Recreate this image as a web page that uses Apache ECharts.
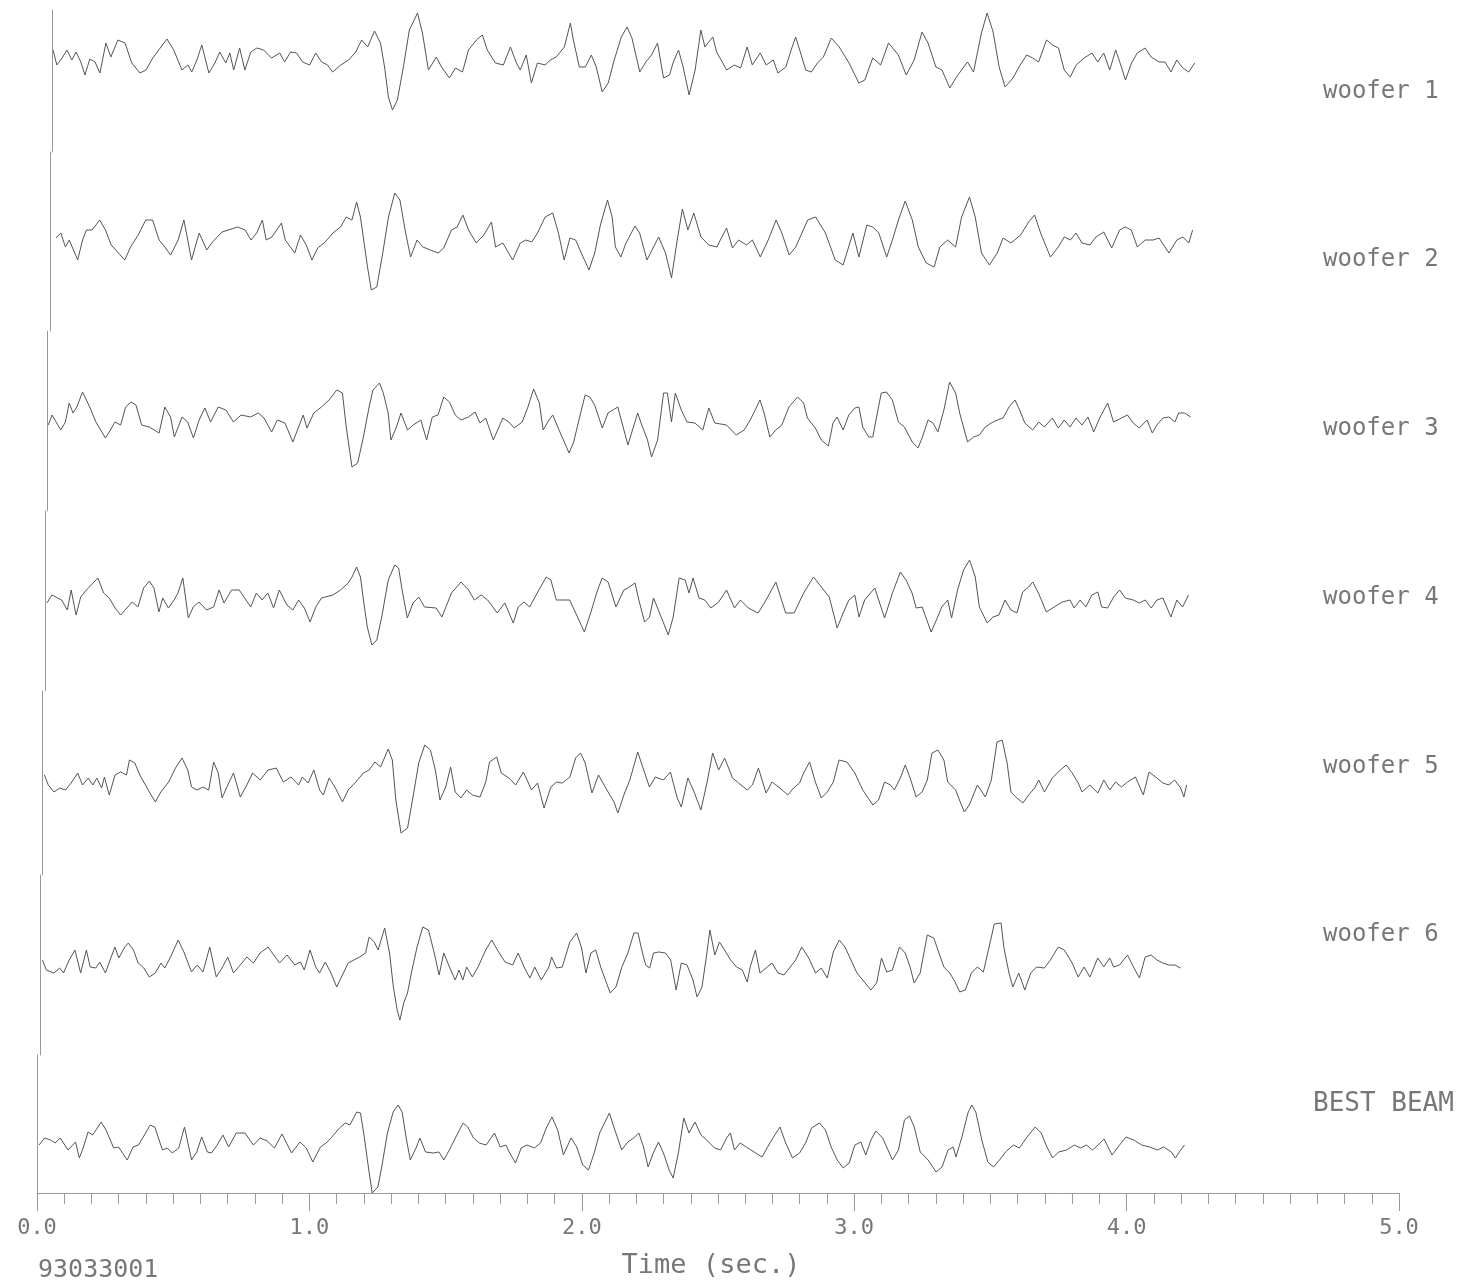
<!DOCTYPE html>
<html>
<head>
<meta charset="utf-8">
<script src="https://cdn.jsdelivr.net/npm/echarts@6/dist/echarts.min.js"></script>
<style>
html,body{margin:0;padding:0;background:#fff;}
#chart{width:1467px;height:1285px;}
</style>
</head>
<body>
<div id="chart"></div>
<script>
// ---- DATA (time in s, relative amplitude) ----
const traceNames = ['woofer 1','woofer 2','woofer 3','woofer 4','woofer 5','woofer 6','BEST BEAM'];
const recordId = '93033001';
const axisTitle = 'Time (sec.)';
const timeTicks = [0,1,2,3,4,5];

const woofer1 = [[0.003,15],[0.017,0],[0.036,7],[0.054,15],[0.072,5],[0.087,13],[0.105,3],[0.120,-10],[0.138,6],[0.157,3],[0.175,-8],[0.197,22],[0.215,8],[0.241,25],[0.267,22],[0.292,2],[0.322,-8],[0.344,-5],[0.369,7],[0.399,18],[0.421,26],[0.446,15],[0.476,-5],[0.498,0],[0.512,-7],[0.531,5],[0.549,20],[0.575,-8],[0.597,2],[0.615,13],[0.637,2],[0.652,12],[0.666,-5],[0.688,17],[0.707,-5],[0.729,13],[0.751,17],[0.776,15],[0.805,7],[0.835,12],[0.853,3],[0.875,13],[0.897,12],[0.919,3],[0.945,0],[0.967,12],[0.989,3],[1.011,0],[1.029,-7],[1.059,0],[1.088,5],[1.114,13],[1.136,25],[1.158,18],[1.183,34],[1.205,22],[1.220,-2],[1.234,-32],[1.249,-45],[1.267,-35],[1.289,-2],[1.311,35],[1.341,52],[1.359,32],[1.381,-5],[1.410,8],[1.429,-2],[1.458,-13],[1.480,-3],[1.506,-7],[1.528,15],[1.557,25],[1.579,30],[1.597,15],[1.627,2],[1.656,0],[1.682,18],[1.704,2],[1.718,-5],[1.740,10],[1.759,-18],[1.781,2],[1.810,0],[1.828,5],[1.850,8],[1.880,18],[1.902,42],[1.913,25],[1.935,-2],[1.957,-2],[1.979,10],[1.997,-2],[2.019,-27],[2.041,-18],[2.063,5],[2.089,28],[2.110,38],[2.128,27],[2.157,-7],[2.179,3],[2.200,10],[2.222,22],[2.244,-13],[2.266,-10],[2.280,3],[2.299,15],[2.316,-2],[2.338,-30],[2.360,-5],[2.381,35],[2.396,18],[2.410,23],[2.425,28],[2.439,13],[2.476,-5],[2.504,0],[2.527,-3],[2.551,18],[2.570,0],[2.599,12],[2.621,0],[2.647,5],[2.664,-8],[2.693,-2],[2.715,17],[2.729,28],[2.744,15],[2.766,-5],[2.787,-7],[2.809,2],[2.831,8],[2.860,27],[2.889,18],[2.925,2],[2.961,-18],[2.983,-15],[3.012,7],[3.041,0],[3.070,22],[3.106,10],[3.135,-10],[3.164,5],[3.193,33],[3.215,22],[3.244,-2],[3.266,-5],[3.295,-23],[3.317,-13],[3.338,-5],[3.360,3],[3.382,-7],[3.411,32],[3.432,52],[3.454,33],[3.476,-2],[3.498,-22],[3.527,-13],[3.549,-2],[3.577,10],[3.599,7],[3.621,3],[3.650,25],[3.672,20],[3.694,17],[3.715,-5],[3.737,-12],[3.759,0],[3.788,7],[3.817,12],[3.838,3],[3.860,12],[3.882,-5],[3.904,15],[3.925,-2],[3.940,-15],[3.962,2],[3.983,12],[4.012,17],[4.034,8],[4.063,3],[4.085,3],[4.107,-7],[4.128,5],[4.150,-3],[4.172,-7],[4.194,2]];

const woofer2 = [[0.022,2],[0.040,7],[0.057,-7],[0.071,0],[0.102,-20],[0.120,0],[0.134,10],[0.155,10],[0.183,20],[0.204,10],[0.225,-5],[0.275,-20],[0.296,-7],[0.324,5],[0.352,20],[0.377,20],[0.401,0],[0.422,-7],[0.443,-15],[0.471,0],[0.492,20],[0.520,-20],[0.548,7],[0.576,-10],[0.597,-2],[0.632,8],[0.689,13],[0.717,10],[0.738,0],[0.759,7],[0.780,20],[0.794,0],[0.815,3],[0.850,17],[0.864,0],[0.899,-13],[0.920,5],[0.941,-5],[0.962,-20],[0.983,-8],[1.011,-2],[1.039,7],[1.067,13],[1.088,23],[1.109,20],[1.126,38],[1.140,23],[1.152,0],[1.166,-27],[1.180,-50],[1.200,-47],[1.222,-13],[1.243,23],[1.266,47],[1.285,40],[1.306,7],[1.324,-17],[1.348,0],[1.369,-7],[1.397,-10],[1.425,-13],[1.446,-8],[1.474,10],[1.495,13],[1.516,25],[1.537,10],[1.565,-3],[1.593,5],[1.621,18],[1.636,-7],[1.663,-3],[1.699,-20],[1.727,-3],[1.748,0],[1.769,-2],[1.790,7],[1.818,23],[1.846,27],[1.867,7],[1.888,-20],[1.909,2],[1.930,0],[1.951,-13],[1.979,-30],[2.000,-13],[2.021,15],[2.047,40],[2.064,23],[2.076,-7],[2.096,-17],[2.115,-3],[2.148,14],[2.165,7],[2.192,-20],[2.216,-7],[2.235,3],[2.260,-13],[2.282,-38],[2.303,0],[2.322,31],[2.342,10],[2.364,27],[2.390,3],[2.419,-5],[2.448,-7],[2.484,12],[2.506,-8],[2.528,0],[2.557,-5],[2.579,0],[2.608,-17],[2.637,0],[2.666,20],[2.687,7],[2.714,-15],[2.738,-7],[2.782,20],[2.811,23],[2.847,7],[2.883,-20],[2.912,-25],[2.948,7],[2.970,-17],[2.999,15],[3.021,13],[3.043,7],[3.072,-17],[3.093,0],[3.115,20],[3.140,39],[3.166,20],[3.188,-7],[3.217,-23],[3.246,-27],[3.267,-7],[3.296,0],[3.325,-7],[3.347,23],[3.376,43],[3.397,23],[3.420,-13],[3.449,-25],[3.478,-13],[3.499,2],[3.528,-3],[3.564,5],[3.593,18],[3.615,25],[3.637,7],[3.673,-17],[3.702,-7],[3.724,3],[3.746,0],[3.767,7],[3.789,-3],[3.818,-5],[3.840,3],[3.869,8],[3.898,-8],[3.927,10],[3.948,13],[3.970,10],[3.992,-7],[4.021,0],[4.050,0],[4.072,2],[4.108,-13],[4.137,0],[4.159,3],[4.181,-3],[4.195,10]];

const woofer3 = [[0.003,-2],[0.017,8],[0.049,-7],[0.066,1],[0.080,20],[0.094,10],[0.108,16],[0.129,31],[0.157,15],[0.178,1],[0.213,-15],[0.227,-9],[0.248,1],[0.269,-2],[0.287,16],[0.307,21],[0.325,18],[0.346,-2],[0.374,-4],[0.410,-10],[0.431,16],[0.452,6],[0.466,-14],[0.494,6],[0.515,1],[0.536,-15],[0.557,3],[0.578,15],[0.599,1],[0.627,16],[0.655,13],[0.683,1],[0.711,8],[0.746,6],[0.774,10],[0.795,5],[0.823,-9],[0.844,3],[0.872,0],[0.901,-19],[0.922,-4],[0.939,8],[0.953,-5],[0.978,10],[1.006,16],[1.034,23],[1.062,33],[1.083,30],[1.097,-4],[1.118,-44],[1.139,-40],[1.160,-14],[1.181,16],[1.195,33],[1.219,40],[1.233,30],[1.251,10],[1.261,-17],[1.280,-5],[1.298,10],[1.322,-7],[1.343,-2],[1.371,3],[1.392,-17],[1.413,6],[1.434,8],[1.455,26],[1.476,21],[1.497,8],[1.518,3],[1.546,6],[1.570,11],[1.588,0],[1.609,5],[1.637,-17],[1.672,5],[1.694,1],[1.714,-5],[1.743,1],[1.764,16],[1.785,34],[1.806,20],[1.820,-7],[1.841,3],[1.855,8],[1.883,-10],[1.915,-30],[1.932,-19],[1.953,5],[1.974,28],[1.991,26],[2.009,18],[2.037,-5],[2.058,10],[2.094,16],[2.131,-22],[2.167,10],[2.182,-2],[2.203,-17],[2.218,-34],[2.240,-17],[2.262,30],[2.276,30],[2.291,1],[2.305,30],[2.327,13],[2.348,1],[2.377,0],[2.406,-7],[2.428,15],[2.450,0],[2.493,-2],[2.529,-12],[2.558,-7],[2.580,3],[2.602,15],[2.616,23],[2.631,10],[2.652,-14],[2.674,-7],[2.696,-2],[2.722,16],[2.754,26],[2.776,20],[2.790,5],[2.819,-5],[2.841,-17],[2.867,-23],[2.884,0],[2.899,6],[2.921,-7],[2.942,8],[2.964,15],[2.979,16],[2.993,-4],[3.015,-14],[3.030,-14],[3.044,6],[3.061,30],[3.080,31],[3.102,23],[3.124,1],[3.146,-4],[3.175,-19],[3.196,-25],[3.211,-15],[3.233,3],[3.251,0],[3.269,-9],[3.291,13],[3.312,41],[3.334,30],[3.349,10],[3.378,-19],[3.400,-14],[3.421,-12],[3.443,-4],[3.465,0],[3.487,3],[3.508,5],[3.530,16],[3.552,23],[3.569,13],[3.588,0],[3.617,-7],[3.639,1],[3.660,-4],[3.689,5],[3.711,-5],[3.733,3],[3.754,-4],[3.776,5],[3.798,-2],[3.820,6],[3.841,-9],[3.863,5],[3.892,20],[3.914,1],[3.943,5],[3.965,8],[3.986,0],[4.008,-5],[4.037,3],[4.056,-10],[4.073,-2],[4.095,5],[4.117,6],[4.139,1],[4.153,10],[4.175,10],[4.197,6]];

const woofer4 = [[0.007,-3],[0.025,5],[0.061,0],[0.082,-10],[0.096,10],[0.114,-15],[0.131,3],[0.152,10],[0.194,22],[0.215,7],[0.236,2],[0.257,-8],[0.278,-15],[0.320,-2],[0.341,-7],[0.362,12],[0.383,19],[0.400,12],[0.418,-12],[0.432,2],[0.453,-8],[0.474,0],[0.488,7],[0.506,22],[0.526,-18],[0.544,-7],[0.565,-2],[0.593,-10],[0.619,-7],[0.639,10],[0.657,-3],[0.685,10],[0.713,10],[0.755,-7],[0.776,7],[0.797,0],[0.818,7],[0.839,-8],[0.860,10],[0.888,-5],[0.910,-10],[0.931,0],[0.952,-8],[0.973,-22],[0.994,-7],[1.015,2],[1.057,5],[1.085,10],[1.113,17],[1.127,23],[1.144,33],[1.158,23],[1.169,0],[1.183,-27],[1.200,-45],[1.218,-40],[1.236,-17],[1.260,20],[1.284,35],[1.298,32],[1.311,10],[1.330,-18],[1.351,-3],[1.372,3],[1.393,-7],[1.436,-8],[1.457,-17],[1.492,7],[1.527,18],[1.555,10],[1.576,0],[1.601,5],[1.625,0],[1.660,-13],[1.688,-3],[1.719,-23],[1.737,-7],[1.758,-2],[1.779,-7],[1.807,7],[1.840,23],[1.857,20],[1.877,0],[1.926,0],[1.955,-17],[1.980,-32],[2.003,-13],[2.025,7],[2.045,22],[2.067,18],[2.096,-7],[2.125,10],[2.140,12],[2.166,17],[2.180,0],[2.201,-22],[2.219,-17],[2.234,2],[2.256,-13],[2.288,-35],[2.306,-17],[2.328,22],[2.350,20],[2.364,7],[2.379,22],[2.401,2],[2.422,0],[2.444,-8],[2.473,-2],[2.502,10],[2.531,-8],[2.553,0],[2.582,-8],[2.618,-13],[2.647,0],[2.683,18],[2.719,-13],[2.750,-13],[2.785,7],[2.821,23],[2.850,13],[2.879,3],[2.908,-28],[2.930,-13],[2.951,0],[2.973,5],[2.988,-17],[3.009,0],[3.046,12],[3.082,-18],[3.111,7],[3.140,28],[3.161,20],[3.183,7],[3.198,-8],[3.220,-7],[3.253,-32],[3.277,-17],[3.292,-7],[3.314,0],[3.328,-18],[3.350,10],[3.372,30],[3.394,40],[3.415,23],[3.430,-7],[3.459,-23],[3.480,-17],[3.502,-15],[3.524,0],[3.546,-10],[3.568,-13],[3.589,8],[3.611,13],[3.626,18],[3.647,7],[3.676,-12],[3.705,-7],[3.734,-2],[3.763,0],[3.778,-8],[3.800,0],[3.821,-7],[3.843,5],[3.865,8],[3.879,-7],[3.901,-8],[3.923,3],[3.945,10],[3.966,2],[3.995,0],[4.017,-3],[4.039,0],[4.061,-8],[4.082,0],[4.104,2],[4.133,-17],[4.155,0],[4.176,-7],[4.198,5]];

const woofer5 = [[0.007,8],[0.021,-2],[0.042,-9],[0.063,-5],[0.084,-7],[0.105,0],[0.129,10],[0.147,-2],[0.168,5],[0.185,-2],[0.199,5],[0.217,-5],[0.227,6],[0.245,-12],[0.266,8],[0.287,11],[0.308,8],[0.319,23],[0.339,20],[0.357,8],[0.378,-2],[0.392,-9],[0.414,-19],[0.434,-9],[0.463,1],[0.488,15],[0.512,25],[0.533,13],[0.547,-4],[0.567,-7],[0.589,-4],[0.610,-7],[0.628,21],[0.645,10],[0.659,-15],[0.680,-2],[0.701,10],[0.726,-14],[0.750,-2],[0.771,10],[0.799,3],[0.828,13],[0.858,15],[0.884,1],[0.912,6],[0.940,-2],[0.954,6],[0.975,0],[0.996,13],[1.017,-7],[1.031,-12],[1.052,5],[1.073,-4],[1.101,-19],[1.122,-7],[1.150,1],[1.178,10],[1.199,13],[1.220,21],[1.241,16],[1.269,34],[1.284,23],[1.297,-17],[1.316,-50],[1.340,-45],[1.360,-14],[1.381,20],[1.403,38],[1.424,33],[1.442,13],[1.459,-17],[1.480,-4],[1.498,16],[1.515,-9],[1.536,-15],[1.557,-7],[1.578,-12],[1.606,-14],[1.627,1],[1.641,21],[1.667,26],[1.684,10],[1.712,5],[1.737,-2],[1.765,11],[1.782,1],[1.795,-7],[1.817,0],[1.841,-25],[1.866,-4],[1.887,1],[1.908,0],[1.936,6],[1.957,25],[1.975,30],[1.992,20],[2.017,-10],[2.041,8],[2.076,-9],[2.098,-19],[2.112,-30],[2.134,-12],[2.156,3],[2.185,31],[2.207,13],[2.228,-4],[2.250,6],[2.279,3],[2.305,11],[2.330,-15],[2.345,-24],[2.369,5],[2.392,-9],[2.417,-27],[2.439,0],[2.460,30],[2.482,13],[2.504,25],[2.533,5],[2.555,0],[2.587,-7],[2.606,-2],[2.628,15],[2.656,-10],[2.678,1],[2.707,-5],[2.736,-12],[2.757,-5],[2.779,0],[2.794,10],[2.816,21],[2.837,1],[2.859,-15],[2.881,-9],[2.903,1],[2.924,23],[2.953,21],[2.982,10],[3.011,-7],[3.048,-22],[3.069,-17],[3.091,1],[3.113,-2],[3.127,-7],[3.149,5],[3.167,18],[3.185,5],[3.207,-14],[3.229,-9],[3.248,3],[3.265,30],[3.287,33],[3.309,23],[3.323,1],[3.352,-7],[3.366,-17],[3.384,-29],[3.402,-22],[3.432,-2],[3.461,-14],[3.483,3],[3.504,41],[3.523,43],[3.541,20],[3.555,-9],[3.577,-15],[3.599,-20],[3.620,-12],[3.642,-5],[3.657,3],[3.678,-9],[3.707,5],[3.736,13],[3.758,18],[3.780,10],[3.802,0],[3.816,-9],[3.845,-2],[3.874,-10],[3.896,3],[3.918,-7],[3.939,1],[3.961,-4],[3.983,1],[4.012,6],[4.041,-12],[4.062,11],[4.091,5],[4.113,0],[4.135,-2],[4.156,3],[4.178,-5],[4.190,-14],[4.200,-2]];

const woofer6 = [[0.009,7],[0.023,-3],[0.051,-6],[0.072,-1],[0.086,-6],[0.107,7],[0.128,17],[0.149,-6],[0.170,17],[0.184,0],[0.205,-1],[0.219,5],[0.240,-6],[0.261,10],[0.275,20],[0.289,9],[0.311,20],[0.324,24],[0.343,17],[0.360,4],[0.381,-1],[0.401,-10],[0.423,-6],[0.444,4],[0.458,-1],[0.479,10],[0.507,27],[0.528,15],[0.556,-5],[0.577,2],[0.598,-5],[0.623,20],[0.647,-10],[0.668,-1],[0.689,10],[0.710,-6],[0.735,2],[0.759,10],[0.783,4],[0.808,14],[0.837,20],[0.858,12],[0.879,4],[0.907,12],[0.935,2],[0.956,5],[0.970,-3],[0.991,17],[1.012,0],[1.026,-6],[1.047,5],[1.068,-6],[1.089,-20],[1.110,-8],[1.131,4],[1.152,7],[1.173,10],[1.195,14],[1.208,30],[1.227,25],[1.241,17],[1.265,39],[1.283,14],[1.297,-20],[1.311,-43],[1.321,-53],[1.335,-36],[1.349,-26],[1.363,-6],[1.384,20],[1.405,40],[1.426,37],[1.447,14],[1.465,-8],[1.482,14],[1.503,0],[1.524,-13],[1.538,-3],[1.552,-13],[1.566,0],[1.587,-10],[1.608,0],[1.636,17],[1.658,27],[1.679,17],[1.707,5],[1.735,2],[1.755,14],[1.777,0],[1.798,-11],[1.816,0],[1.840,-13],[1.868,0],[1.878,10],[1.896,-1],[1.917,0],[1.945,25],[1.970,34],[1.987,20],[2.004,-6],[2.022,14],[2.040,17],[2.058,0],[2.093,-26],[2.114,-20],[2.136,0],[2.158,14],[2.180,34],[2.195,34],[2.209,17],[2.223,2],[2.238,-1],[2.252,14],[2.271,15],[2.296,14],[2.315,7],[2.335,-23],[2.354,4],[2.375,2],[2.397,-13],[2.412,-30],[2.430,-20],[2.448,14],[2.459,37],[2.477,12],[2.494,25],[2.513,17],[2.535,7],[2.557,0],[2.578,-3],[2.596,-15],[2.607,0],[2.626,17],[2.643,-6],[2.665,-1],[2.687,4],[2.709,-6],[2.731,-8],[2.774,7],[2.796,20],[2.822,9],[2.847,-6],[2.868,-1],[2.890,-11],[2.912,15],[2.934,27],[2.955,20],[2.977,7],[2.999,-6],[3.020,-13],[3.050,-23],[3.071,-16],[3.089,9],[3.108,-5],[3.129,-3],[3.155,20],[3.176,14],[3.194,0],[3.209,-16],[3.231,-6],[3.257,32],[3.281,29],[3.300,14],[3.318,0],[3.340,-6],[3.361,-16],[3.376,-25],[3.397,-23],[3.419,-6],[3.441,0],[3.463,-5],[3.484,20],[3.503,43],[3.528,44],[3.538,20],[3.557,-6],[3.571,-20],[3.593,-6],[3.615,-23],[3.637,-6],[3.658,0],[3.687,-1],[3.709,7],[3.738,20],[3.760,17],[3.789,4],[3.811,-10],[3.833,0],[3.854,-10],[3.883,9],[3.905,0],[3.927,9],[3.941,0],[3.963,2],[3.992,12],[4.014,0],[4.036,-11],[4.057,10],[4.079,12],[4.100,7],[4.122,4],[4.144,2],[4.166,2],[4.187,-1]];

const bestBeam = [[0.005,-2],[0.026,5],[0.047,3],[0.064,0],[0.083,5],[0.111,-7],[0.139,1],[0.153,-15],[0.167,-5],[0.185,11],[0.202,8],[0.233,21],[0.251,13],[0.279,-5],[0.297,-4],[0.329,-17],[0.350,-4],[0.370,-2],[0.392,8],[0.413,18],[0.430,16],[0.458,-7],[0.476,-5],[0.494,-10],[0.518,-5],[0.539,16],[0.565,-17],[0.584,-9],[0.602,6],[0.623,-9],[0.638,-10],[0.659,-2],[0.680,8],[0.701,-4],[0.729,10],[0.761,10],[0.792,-2],[0.817,5],[0.843,2],[0.869,-5],[0.897,9],[0.932,-10],[0.963,1],[0.986,-5],[1.010,-19],[1.038,-4],[1.059,0],[1.080,6],[1.108,15],[1.129,20],[1.146,18],[1.171,31],[1.185,30],[1.199,6],[1.214,-24],[1.228,-50],[1.249,-44],[1.263,-24],[1.284,10],[1.305,31],[1.323,38],[1.338,31],[1.354,3],[1.368,-17],[1.389,-5],[1.403,5],[1.424,-9],[1.452,-10],[1.473,-9],[1.491,-17],[1.515,-5],[1.539,8],[1.562,20],[1.579,16],[1.600,5],[1.621,0],[1.646,-2],[1.677,10],[1.698,-4],[1.719,-2],[1.733,-10],[1.754,-20],[1.775,-5],[1.796,-2],[1.824,-5],[1.846,0],[1.867,15],[1.888,26],[1.909,13],[1.930,-12],[1.958,5],[1.979,-4],[2.001,-22],[2.022,-27],[2.043,-10],[2.063,10],[2.099,30],[2.115,16],[2.144,-7],[2.166,1],[2.188,5],[2.207,10],[2.224,-4],[2.241,-24],[2.260,-10],[2.279,1],[2.300,-12],[2.318,-27],[2.333,-35],[2.352,-10],[2.372,25],[2.391,10],[2.413,21],[2.435,8],[2.456,3],[2.485,-5],[2.507,-7],[2.529,5],[2.543,10],[2.558,-7],[2.579,0],[2.601,-4],[2.630,-9],[2.659,-14],[2.688,0],[2.706,8],[2.725,16],[2.746,0],[2.771,-15],[2.797,-10],[2.819,0],[2.841,15],[2.870,20],[2.892,13],[2.913,-4],[2.935,-17],[2.957,-25],[2.979,-20],[3.000,-2],[3.022,1],[3.040,-12],[3.059,3],[3.077,12],[3.102,5],[3.138,-17],[3.160,-7],[3.182,23],[3.201,27],[3.218,16],[3.240,-9],[3.269,-17],[3.298,-29],[3.320,-24],[3.342,-7],[3.361,-4],[3.371,-14],[3.393,6],[3.415,30],[3.429,38],[3.444,31],[3.466,3],[3.488,-19],[3.509,-24],[3.531,-17],[3.553,-9],[3.582,-2],[3.604,-5],[3.632,6],[3.662,16],[3.684,10],[3.705,-4],[3.726,-15],[3.748,-9],[3.777,-7],[3.806,-2],[3.828,-5],[3.850,-2],[3.872,-7],[3.893,-2],[3.915,4],[3.944,-12],[3.966,-4],[3.995,6],[4.024,3],[4.053,-2],[4.082,-4],[4.111,-7],[4.133,-4],[4.162,-9],[4.177,-15],[4.191,-9],[4.210,-2]];

const traces = [woofer1, woofer2, woofer3, woofer4, woofer5, woofer6, bestBeam];

// ---- LAYOUT (styling / positions only) ----
const W = 1467, H = 1285;
const axisLeft = 37, pxPerSec = 272.4, axisY = 1193;
const plotWidth = pxPerSec * 5;
const baselines = [65, 240, 423, 600, 783, 967, 1143];
const bands = [10, 152, 331, 511, 691, 875, 1055, 1193];
const skew = 16; // scanned page slant: left edge moves right going up
const labelY = [92, 260, 429, 598, 767, 935, 1104];
const fontFam = '"DejaVu Sans Mono", monospace';
const inkText = '#777', inkAxis = '#999', inkTrace = '#555';

const grid = [], xAxis = [], yAxis = [], series = [];
traces.forEach((d, i) => {
  const left = axisLeft + skew * (axisY - baselines[i]) / (axisY - bands[0]);
  grid.push({ left: left, width: plotWidth, top: bands[i], height: bands[i+1] - bands[i] });
  xAxis.push({ gridIndex: i, type: 'value', min: 0, max: 5, show: false });
  yAxis.push({
    gridIndex: i, type: 'value',
    min: baselines[i] - bands[i+1], max: baselines[i] - bands[i],
    axisLine: { show: true, onZero: false, lineStyle: { color: inkAxis, width: 1 } },
    axisTick: { show: false }, axisLabel: { show: false }, splitLine: { show: false }
  });
  series.push({
    name: traceNames[i], type: 'line', xAxisIndex: i, yAxisIndex: i,
    data: d, showSymbol: false, symbol: 'none', clip: false,
    lineStyle: { color: inkTrace, width: 1 }
  });
});

// time axis grid
const gi = traces.length;
grid.push({ left: axisLeft, width: plotWidth, top: axisY - 60, height: 60 });
xAxis.push({
  gridIndex: gi, type: 'value', min: timeTicks[0], max: timeTicks[timeTicks.length - 1], interval: 1,
  axisLine: { show: true, lineStyle: { color: inkAxis, width: 1 } },
  axisTick: { show: true, length: 18, lineStyle: { color: inkAxis, width: 1 } },
  minorTick: { show: true, splitNumber: 10, length: 11, lineStyle: { color: inkAxis, width: 1 } },
  splitLine: { show: false }, minorSplitLine: { show: false },
  axisLabel: { formatter: v => v.toFixed(1), fontSize: 22, fontFamily: fontFam, color: inkText, margin: 24 },
  name: axisTitle, nameLocation: 'middle', nameGap: 59,
  nameTextStyle: { fontSize: 27, fontFamily: fontFam, color: inkText, padding: [0, 14, 0, 0] }
});
yAxis.push({ gridIndex: gi, type: 'value', show: false, min: 0, max: 1 });
series.push({ type: 'line', xAxisIndex: gi, yAxisIndex: gi, data: [], silent: true });

const graphic = traceNames.map((t, i) => ({
  type: 'text', x: i === traceNames.length - 1 ? 1313 : 1323, y: labelY[i],
  style: { text: t, font: '24px ' + fontFam, fill: inkText, verticalAlign: 'middle' }
}));
graphic[graphic.length - 1].style.font = '26px ' + fontFam;
graphic.push({ type: 'text', x: 38, y: 1270,
  style: { text: recordId, font: '25px ' + fontFam, fill: inkText, verticalAlign: 'middle' } });

const chart = echarts.init(document.getElementById('chart'), null, { renderer: 'canvas', width: W, height: H });
chart.setOption({
  backgroundColor: '#ffffff',
  animation: false,
  grid, xAxis, yAxis, series, graphic
});
</script>
</body>
</html>
